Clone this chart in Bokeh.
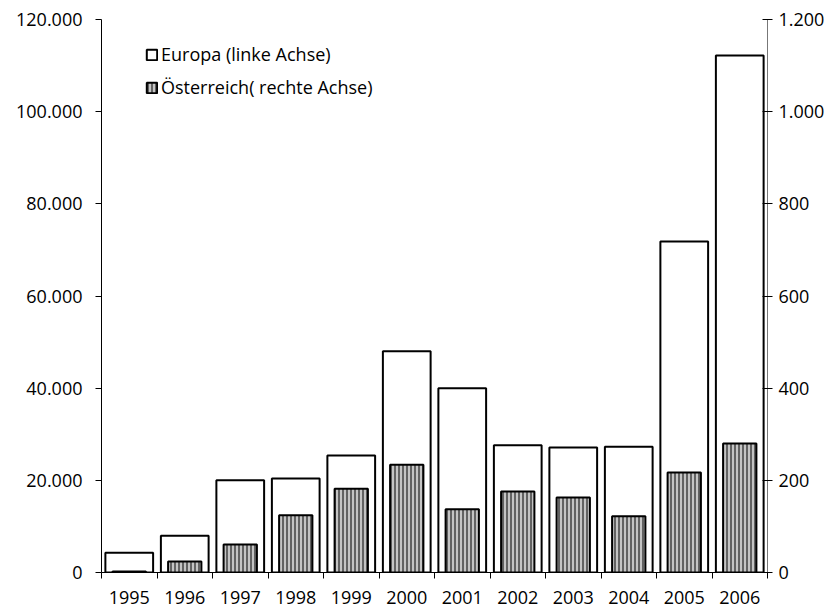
from bokeh.plotting import figure
from bokeh.models import Range1d, LinearAxis, FixedTicker, Legend, LegendItem, ColumnDataSource
from bokeh.embed import file_html
from bokeh.resources import INLINE

years = ["1995", "1996", "1997", "1998", "1999", "2000", "2001", "2002", "2003", "2004", "2005", "2006"]
europa = [4300, 8000, 20000, 20400, 25400, 48000, 40000, 27600, 27100, 27300, 71800, 112200]
oesterreich = [2, 24, 61, 124, 182, 234, 137, 176, 163, 122, 217, 280]
left_ticks = [0, 20000, 40000, 60000, 80000, 100000, 120000]
right_ticks = [0, 200, 400, 600, 800, 1000, 1200]

FONT = "Open Sans"
FS = "18px"

def de_fmt(v):
    return f"{v:,}".replace(",", ".")

xc = [i + 0.5 for i in range(len(years))]
src = ColumnDataSource(dict(x=xc, eu=europa, at=oesterreich))

p = figure(width=838, height=613, output_backend="svg", toolbar_location=None,
           x_range=Range1d(0, len(years)), y_range=Range1d(0, 120000),
           min_border_left=101, min_border_right=71, min_border_top=19, min_border_bottom=41)
p.extra_y_ranges = {"right": Range1d(0, 1200)}
p.outline_line_color = None
p.grid.grid_line_color = None
p.background_fill_color = "white"

r_eu = p.vbar(x="x", top="eu", width=0.86, source=src, fill_color="white",
              line_color="black", line_width=2)
r_at = p.vbar(x="x", top="at", width=0.6, source=src, y_range_name="right",
              fill_color="#c4c4c4", line_color="black", line_width=2,
              hatch_pattern="|", hatch_color="black", hatch_scale=4, hatch_weight=1)

# x axis
xa = p.xaxis[0]
xa.ticker = FixedTicker(ticks=xc, minor_ticks=list(range(len(years) + 1)))
xa.major_label_overrides = {x: y for x, y in zip(xc, years)}
xa.major_tick_out = 0
xa.major_tick_in = 0
xa.minor_tick_out = 6
xa.minor_tick_in = 0
xa.minor_tick_line_color = "black"
xa.axis_line_color = "black"
xa.major_label_standoff = 12
xa.major_label_text_font = FONT
xa.major_label_text_font_size = FS
xa.major_label_text_color = "black"

# left axis
ya = p.yaxis[0]
ya.ticker = FixedTicker(ticks=left_ticks, minor_ticks=[])
ya.major_label_overrides = {v: de_fmt(v) for v in left_ticks}
ya.major_tick_out = 6
ya.major_tick_in = 0
ya.major_label_standoff = 13
ya.axis_line_color = "black"
ya.major_tick_line_color = "black"
ya.minor_tick_line_color = None
ya.major_label_text_font = FONT
ya.major_label_text_font_size = FS
ya.major_label_text_color = "black"

# right axis
ra = LinearAxis(y_range_name="right")
ra.ticker = FixedTicker(ticks=right_ticks, minor_ticks=[])
ra.major_label_overrides = {v: de_fmt(v) for v in right_ticks}
ra.major_tick_out = 5
ra.major_tick_in = 5
ra.major_label_standoff = 6
ra.axis_line_color = "#777777"
ra.major_tick_line_color = "black"
ra.minor_tick_line_color = None
ra.major_label_text_font = FONT
ra.major_label_text_font_size = FS
ra.major_label_text_color = "black"
p.add_layout(ra, "right")

legend = Legend(items=[LegendItem(label="Europa (linke Achse)", renderers=[r_eu]),
                       LegendItem(label="Österreich( rechte Achse)", renderers=[r_at])],
                location=(44, 473))
legend.border_line_color = None
legend.background_fill_alpha = 0
legend.padding = 0
legend.margin = 0
legend.spacing = 9
legend.glyph_width = 13
legend.glyph_height = 13
legend.label_standoff = 3
legend.label_text_font = FONT
legend.label_text_font_size = FS
legend.label_text_color = "black"
legend.label_height = 22
p.add_layout(legend)

open("out.html", "w").write(file_html(p, INLINE))
